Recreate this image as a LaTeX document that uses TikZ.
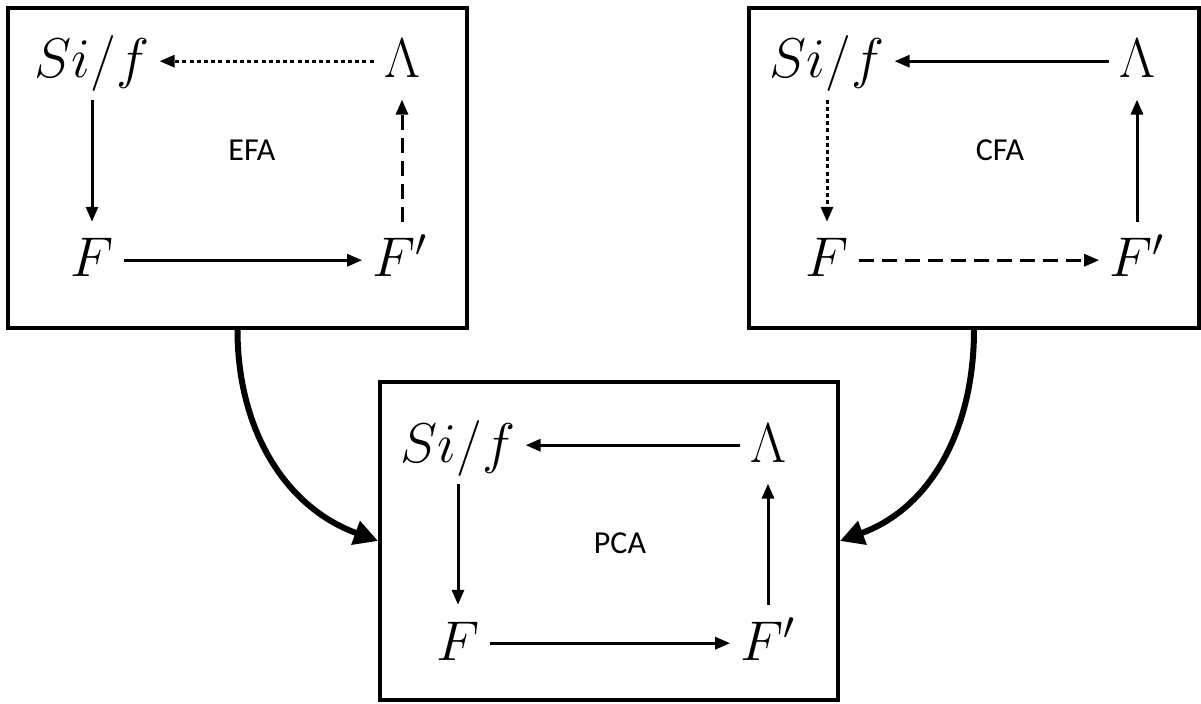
\documentclass[tikz,border=0pt]{standalone}
\usepackage{fix-cm}
\usepackage{fontspec}
\setsansfont{Carlito}
\usetikzlibrary{arrows.meta}

\tikzset{
    panel/.style={draw, line width=1.9pt, minimum width=#1, minimum height=160pt, inner sep=0pt},
    var/.style={font=\fontsize{28}{32}\selectfont, inner sep=0pt, anchor=base, text height=22.4pt, text depth=5.6pt},
    lbl/.style={font=\sffamily\fontsize{16}{19}\selectfont},
    arr/.style={-{Triangle[length=7.5pt,width=6pt]}, line width=1.5pt, shorten <=5pt, shorten >=5pt},
    dotline/.style={dash pattern=on 2pt off 1.6pt},
    dashline/.style={dash pattern=on 7.5pt off 4pt},
    flow/.style={-{Triangle[length=12pt,width=12pt]}, line width=3pt}
}

\begin{document}
\begin{tikzpicture}[x=0.5pt, y=0.5pt]
    \useasboundingbox (0,0) rectangle (1201,703);

    % EFA
    \node[panel=229.5pt] (efabox) at (237.5,535) {};
    \node[var] (efasif) at (92,625) {$Si/f$};
    \node[var] (efalam) at (402,625) {$\Lambda$};
    \node[var] (efaf) at (92,426) {$F$};
    \node[var] (efafp) at (400,426) {$F'$};
    \node[lbl] (efa) at (252,553) {EFA};
    \draw[arr, dotline] (efalam.west) -- (efalam.west -| efasif.east);
    \draw[arr] (efasif.south) -- (efaf.north);
    \draw[arr] (efaf.east) -- (efaf.east -| efafp.west);
    \draw[arr, dashline] (efafp.north -| efalam) -- (efalam.south);

    % CFA
    \node[panel=225pt] (cfabox) at (974,535) {};
    \node[var] (cfasif) at (827,625) {$Si/f$};
    \node[var] (cfalam) at (1137,625) {$\Lambda$};
    \node[var] (cfaf) at (827,426) {$F$};
    \node[var] (cfafp) at (1137,426) {$F'$};
    \node[lbl] (cfa) at (1000,553) {CFA};
    \draw[arr] (cfalam.west) -- (cfalam.west -| cfasif.east);
    \draw[arr, dotline] (cfasif.south) -- (cfaf.north);
    \draw[arr, dashline] (cfaf.east) -- (cfaf.east -| cfafp.west);
    \draw[arr] (cfafp.north -| cfalam) -- (cfalam.south);

    % PCA
    \node[panel=229pt, minimum height=159pt] (pcabox) at (609,162) {};
    \node[var] (pcasif) at (458,241) {$Si/f$};
    \node[var] (pcalam) at (768,241) {$\Lambda$};
    \node[var] (pcaf) at (458,43) {$F$};
    \node[var] (pcafp) at (768,43) {$F'$};
    \node[lbl] (pca) at (620,160) {PCA};
    \draw[arr] (pcalam.west) -- (pcalam.west -| pcasif.east);
    \draw[arr] (pcasif.south) -- (pcaf.north);
    \draw[arr] (pcaf.east) -- (pcaf.east -| pcafp.west);
    \draw[arr] (pcafp.north -| pcalam) -- (pcalam.south);

    % combining
    \draw[flow] (efabox.south) to[out=-90, in=160] (pcabox.west);
    \draw[flow] (cfabox.south) to[out=-90, in=20] (pcabox.east);
\end{tikzpicture}
\end{document}
